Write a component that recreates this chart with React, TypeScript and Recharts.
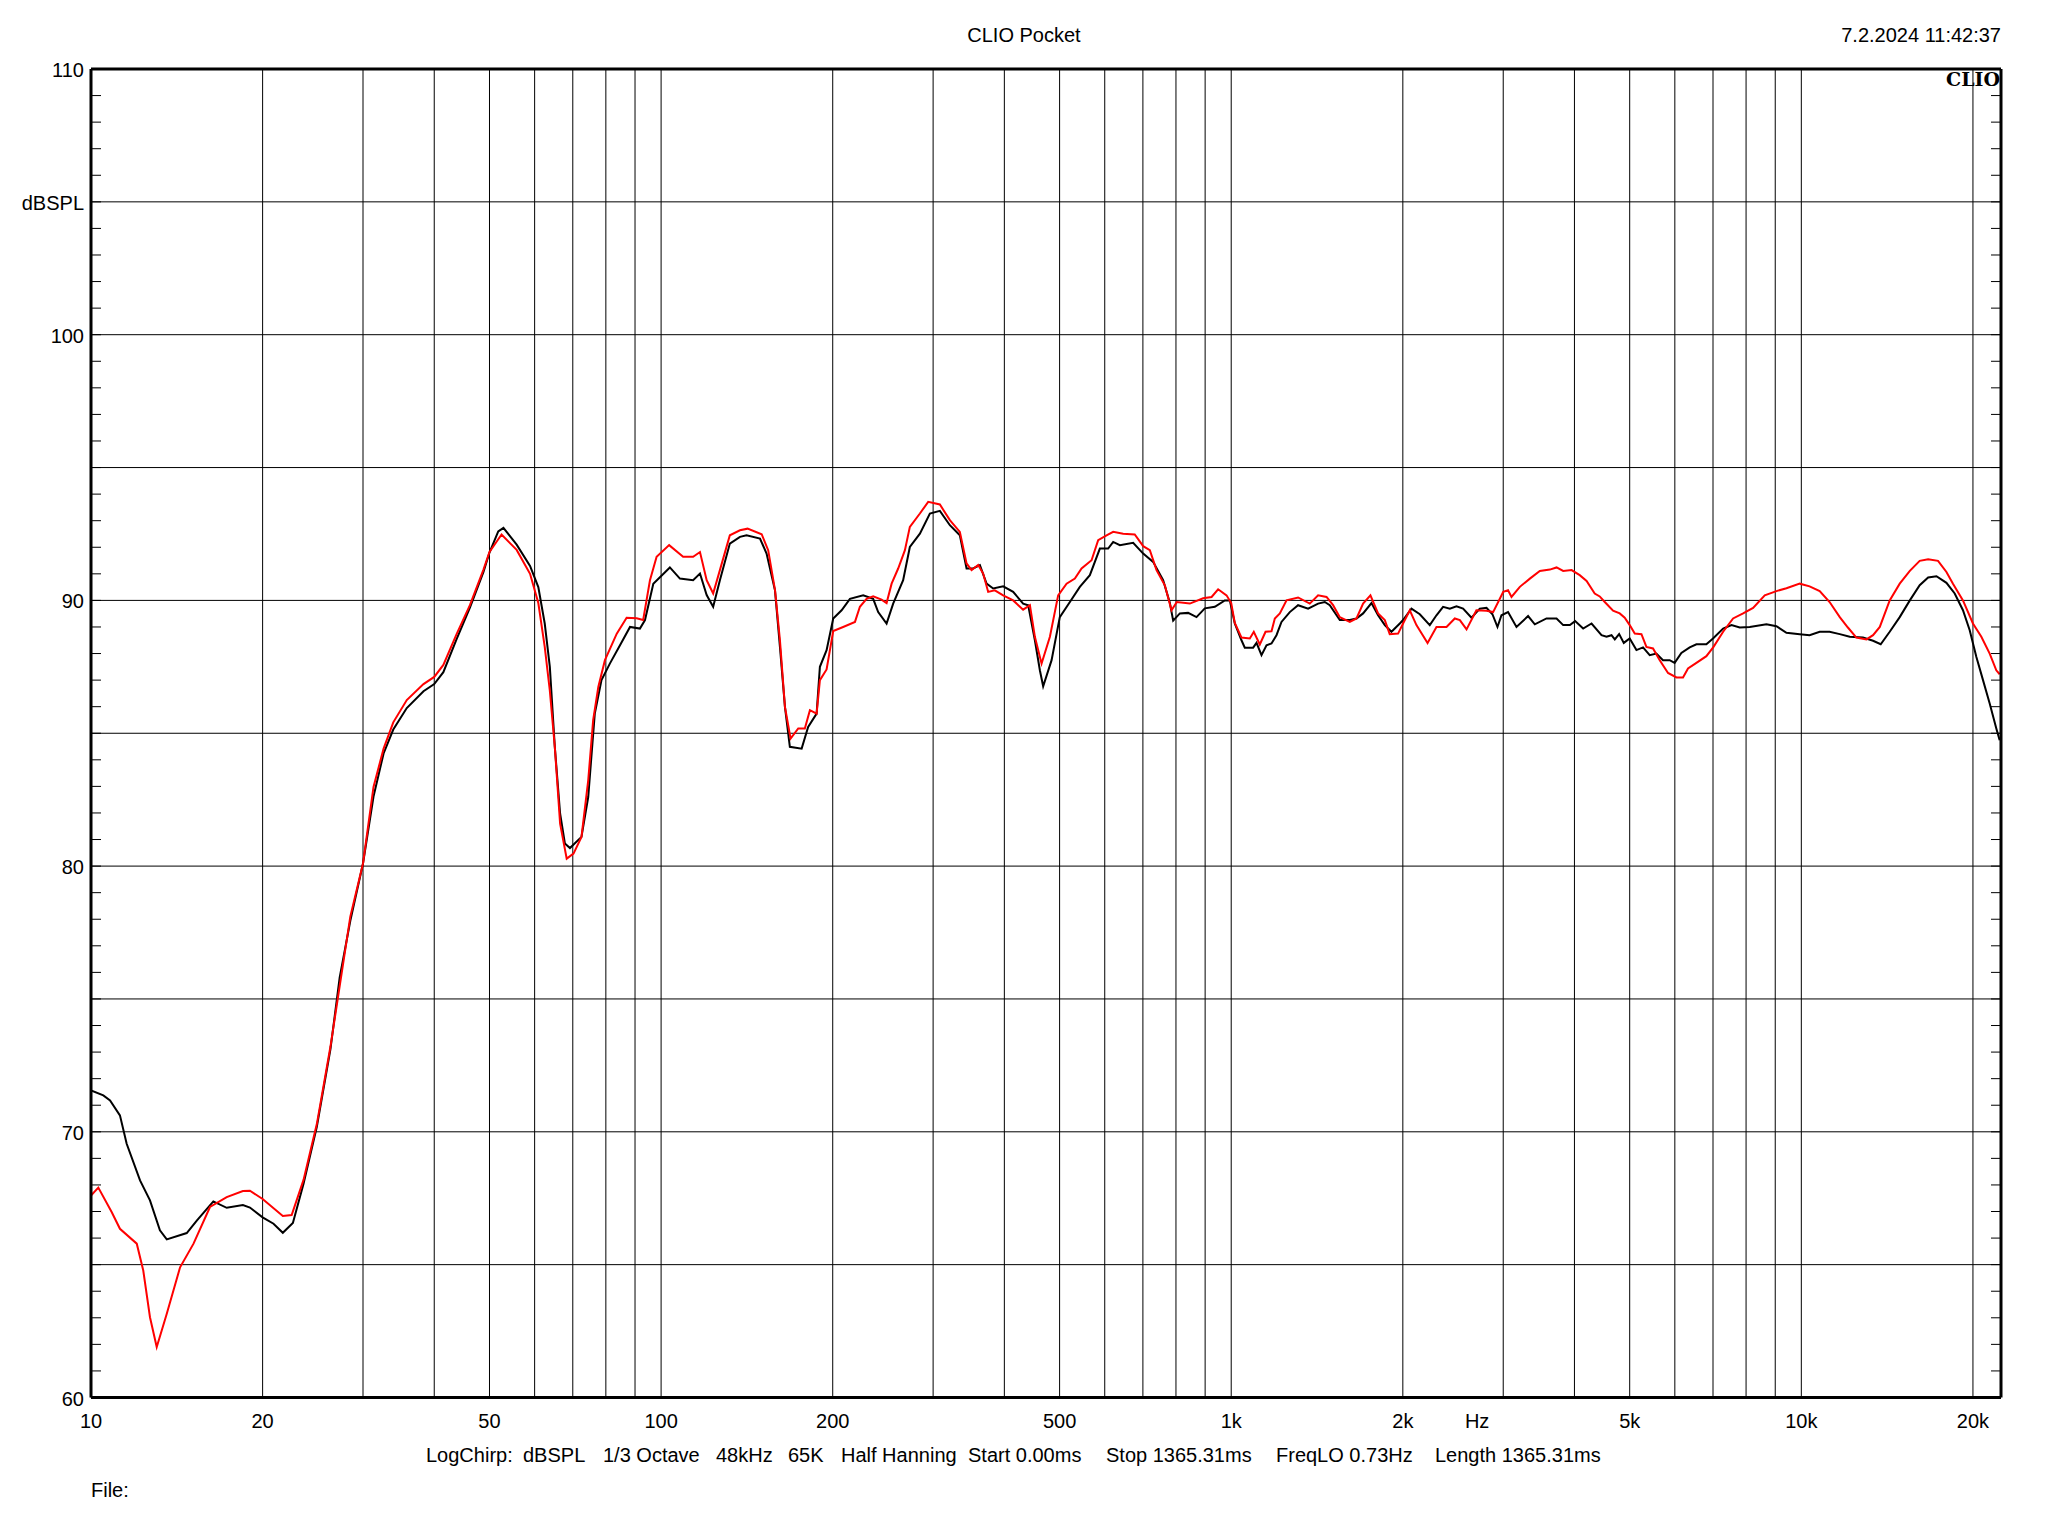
import React from 'react';
import { LineChart, Line, XAxis, YAxis, CartesianGrid } from 'recharts';

const FONT = '"Liberation Sans", Arial, sans-serif';

// Frequency grid / tick values (Hz)
const gridHz = [10, 20, 30, 40, 50, 60, 70, 80, 90, 100, 200, 300, 400, 500, 600, 700, 800, 900, 1000, 2000, 3000, 4000, 5000, 6000, 7000, 8000, 9000, 10000, 20000];
const labelHz = [10, 20, 50, 100, 200, 500, 1000, 2000, 2700, 5000, 10000, 20000];
const labelHzText: Record<number, string> = { 10: '10', 20: '20', 50: '50', 100: '100', 200: '200', 500: '500', 1000: '1k', 2000: '2k', 2700: 'Hz', 5000: '5k', 10000: '10k', 20000: '20k' };

// dB grid / ticks
const gridDb = [60, 65, 70, 75, 80, 85, 90, 95, 100, 105, 110];
const labelDbText: Record<number, string> = { 60: '60', 70: '70', 80: '80', 90: '90', 100: '100', 105: 'dBSPL', 110: '110' };
const minorDb = [60, 61, 62, 63, 64, 65, 66, 67, 68, 69, 70, 71, 72, 73, 74, 75, 76, 77, 78, 79, 80, 81, 82, 83, 84, 85, 86, 87, 88, 89, 90, 91, 92, 93, 94, 95, 96, 97, 98, 99, 100, 101, 102, 103, 104, 105, 106, 107, 108, 109, 110];

// Black trace
const blackHz = [10, 10.51, 10.8, 11.24, 11.55, 12.19, 12.69, 13.21, 13.58, 14.72, 15.33, 16.39, 17.3, 18.47, 19.0, 20.0, 20.9, 21.7, 22.6, 23.6, 24.9, 26.3, 27.3, 28.5, 30.0, 31.3, 32.6, 33.9, 35.8, 38.3, 40, 41.5, 43.8, 46.2, 48.8, 50, 51.8, 52.9, 55.8, 58.9, 60.9, 62.5, 63.8, 65.1, 66.5, 67.8, 69.2, 72.5, 74.5, 76.5, 78.6, 81.3, 84.7, 88.2, 91.8, 93.7, 96.9, 103.6, 107.9, 113.8, 117.0, 120.2, 123.4, 126.8, 132.0, 137.5, 141.2, 149.1, 153.1, 158.4, 161.6, 164.9, 168.2, 176.4, 181.1, 187.4, 189.9, 195.1, 200.4, 207.3, 214.4, 226.2, 235.5, 240.3, 248.6, 255.3, 265.8, 273.1, 284.4, 296.1, 308.3, 321.0, 334.2, 343.4, 352.6, 362.4, 372.3, 382.4, 398.1, 414.5, 431.5, 440.4, 452.5, 461.7, 467.9, 484.1, 500.4, 521.2, 542.6, 565.0, 588.3, 608.3, 620.8, 637.8, 673.0, 700.8, 729.5, 759.6, 780.6, 791.0, 812.7, 840.3, 869.2, 898.9, 936.0, 974.5, 994.3, 1014.6, 1042.3, 1056.4, 1092.5, 1107.6, 1130.1, 1153.2, 1176.7, 1200.6, 1225.1, 1266.9, 1310, 1364.2, 1420.3, 1459.4, 1489, 1550.6, 1614.4, 1658.5, 1703.4, 1762, 1809.7, 1859.5, 1910.3, 1975.6, 2002, 2071, 2142, 2230, 2291, 2353, 2418, 2484, 2551, 2639, 2729, 2804, 2872, 2931, 2979, 3059, 3165, 3317, 3408, 3573, 3721, 3822, 3927, 4011, 4143, 4286, 4462, 4553, 4646, 4708, 4791, 4882, 5000, 5138, 5277, 5421, 5569, 5719, 5876, 5995, 6160, 6371, 6546, 6815, 7000, 7292, 7543, 7798, 8119, 8686, 9043, 9417, 9936, 10340, 10770, 11210, 11680, 12160, 12830, 13360, 13780, 14290, 14880, 15500, 16130, 16690, 17260, 17970, 18580, 19210, 19740, 20280, 20830, 21400, 21980, 22280];
const blackDb = [71.56, 71.37, 71.18, 70.62, 69.55, 68.17, 67.42, 66.29, 65.95, 66.19, 66.66, 67.38, 67.14, 67.24, 67.15, 66.78, 66.54, 66.2, 66.57, 68.05, 70.2, 73.1, 75.8, 77.94, 80.1, 82.62, 84.24, 85.14, 85.95, 86.58, 86.85, 87.3, 88.55, 89.73, 91.07, 91.8, 92.6, 92.73, 92.1, 91.3, 90.5, 89.13, 87.5, 84.48, 81.98, 80.85, 80.68, 81.1, 82.6, 85.74, 87.0, 87.62, 88.31, 89.0, 88.94, 89.26, 90.63, 91.24, 90.82, 90.76, 91.01, 90.2, 89.76, 90.76, 92.14, 92.39, 92.45, 92.33, 91.76, 90.38, 88.25, 85.99, 84.49, 84.42, 85.24, 85.74, 87.5, 88.13, 89.32, 89.63, 90.06, 90.19, 90.06, 89.56, 89.13, 89.88, 90.76, 92.01, 92.51, 93.27, 93.37, 92.83, 92.45, 91.2, 91.2, 91.33, 90.63, 90.45, 90.53, 90.32, 89.88, 89.82, 88.5, 87.37, 86.77, 87.75, 89.37, 89.94, 90.51, 90.95, 91.95, 91.95, 92.2, 92.08, 92.17, 91.76, 91.45, 90.76, 89.9, 89.24, 89.51, 89.53, 89.37, 89.7, 89.76, 90.0, 90.0, 89.13, 88.5, 88.22, 88.22, 88.4, 87.94, 88.31, 88.38, 88.69, 89.19, 89.56, 89.82, 89.69, 89.88, 89.94, 89.82, 89.26, 89.26, 89.32, 89.51, 89.9, 89.44, 89.07, 88.82, 89.13, 89.26, 89.69, 89.48, 89.07, 89.44, 89.76, 89.69, 89.78, 89.69, 89.35, 89.69, 89.72, 89.48, 89.0, 89.44, 89.56, 89.0, 89.41, 89.1, 89.32, 89.32, 89.07, 89.07, 89.22, 88.94, 89.13, 88.69, 88.63, 88.69, 88.53, 88.73, 88.4, 88.57, 88.13, 88.23, 87.94, 88.0, 87.75, 87.75, 87.65, 88.02, 88.23, 88.35, 88.35, 88.57, 88.94, 89.07, 88.98, 89.0, 89.1, 89.03, 88.78, 88.73, 88.69, 88.82, 88.82, 88.73, 88.63, 88.6, 88.48, 88.35, 88.82, 89.37, 90.0, 90.57, 90.86, 90.91, 90.66, 90.26, 89.63, 88.88, 87.87, 87.0, 86.12, 85.18, 84.74];

// Red trace
const redHz = [10, 10.3, 10.87, 11.24, 12.03, 12.35, 12.69, 13.04, 13.58, 14.33, 15.13, 16.17, 17.3, 18.47, 19.0, 20.0, 21.7, 22.49, 23.6, 24.9, 26.3, 28.5, 30.0, 31.3, 32.6, 33.9, 35.8, 38.3, 40, 41.5, 43.8, 46.2, 48.8, 50, 52.5, 55.8, 58.9, 60.9, 62.5, 63.8, 65.1, 66.5, 68.3, 70.2, 72.5, 74.5, 76.0, 77.6, 79.7, 83.6, 87.0, 90.6, 93.0, 95.6, 98.2, 103.3, 109.3, 113.8, 117.0, 120.2, 123.4, 126.8, 132.0, 137.5, 141.8, 150.1, 154.1, 158.4, 161.6, 164.9, 168.7, 174.0, 178.7, 182.4, 187.4, 189.9, 195.1, 200.4, 208.6, 218.8, 223.2, 229.3, 235.5, 243.6, 248.6, 253.7, 260.5, 267.7, 273.1, 284.4, 294.1, 308.3, 321.0, 334.2, 343.4, 350.4, 359.9, 367.2, 374.7, 384.9, 398.1, 414.5, 431.5, 443.5, 452.5, 464.9, 480.8, 497.1, 514.3, 531.8, 546.4, 568.9, 584.3, 604.4, 620.8, 646.3, 677.3, 700.8, 719.9, 739.6, 764.9, 785.7, 802.7, 846.1, 892.7, 923.8, 948.5, 981.3, 1000, 1014.6, 1042.5, 1078, 1095.5, 1122.3, 1148.7, 1176.7, 1192.6, 1217, 1250.3, 1310, 1373.4, 1420.3, 1469.6, 1509, 1550.6, 1614.4, 1658.5, 1703.4, 1754.7, 1809.7, 1859.5, 1897, 1962, 2002, 2057, 2113, 2210, 2291, 2386, 2467, 2518, 2587, 2692, 2804, 2880, 2959, 3000, 3059, 3102, 3208, 3341, 3478, 3622, 3721, 3822, 3954, 4086, 4201, 4341, 4430, 4521, 4675, 4803, 4900, 5000, 5103, 5243, 5349, 5494, 5645, 5837, 6039, 6201, 6328, 6546, 6815, 7015, 7292, 7591, 7905, 8230, 8627, 9043, 9417, 9936, 10340, 10770, 11210, 11680, 12070, 12490, 13010, 13360, 13730, 14290, 14880, 15500, 16130, 16690, 17370, 17970, 18450, 19210, 20000, 20690, 21400, 21980, 22280];
const redDb = [67.6, 67.9, 66.98, 66.35, 65.79, 64.78, 63.02, 61.9, 63.15, 64.9, 65.79, 67.17, 67.54, 67.77, 67.78, 67.47, 66.83, 66.87, 68.2, 70.3, 73.2, 78.1, 80.1, 82.98, 84.42, 85.41, 86.25, 86.85, 87.12, 87.57, 88.74, 89.82, 91.16, 91.82, 92.48, 91.9, 91.0, 89.9, 88.25, 86.6, 84.48, 81.6, 80.28, 80.47, 81.1, 83.23, 85.49, 86.74, 87.75, 88.75, 89.35, 89.33, 89.26, 90.76, 91.64, 92.08, 91.64, 91.64, 91.82, 90.76, 90.26, 91.14, 92.45, 92.64, 92.7, 92.49, 91.89, 90.4, 88.5, 85.99, 84.8, 85.18, 85.18, 85.87, 85.74, 87.0, 87.4, 88.85, 89.0, 89.19, 89.76, 90.06, 90.15, 90.03, 89.9, 90.63, 91.2, 91.89, 92.77, 93.27, 93.71, 93.61, 93.02, 92.58, 91.39, 91.14, 91.33, 91.01, 90.32, 90.38, 90.19, 90.0, 89.65, 89.82, 88.63, 87.62, 88.63, 90.19, 90.63, 90.82, 91.2, 91.51, 92.27, 92.45, 92.58, 92.51, 92.48, 92.04, 91.89, 91.14, 90.57, 89.63, 89.94, 89.88, 90.08, 90.13, 90.42, 90.19, 89.9, 89.15, 88.6, 88.57, 88.82, 88.34, 88.82, 88.84, 89.32, 89.51, 90.0, 90.11, 89.88, 90.19, 90.13, 89.82, 89.37, 89.19, 89.32, 89.88, 90.19, 89.51, 89.26, 88.73, 88.75, 89.13, 89.63, 89.07, 88.4, 89.0, 89.0, 89.32, 89.26, 88.91, 89.63, 89.61, 89.56, 90.06, 90.32, 90.38, 90.13, 90.51, 90.82, 91.11, 91.16, 91.24, 91.11, 91.14, 90.95, 90.73, 90.26, 90.15, 89.94, 89.61, 89.51, 89.35, 89.07, 88.75, 88.73, 88.25, 88.19, 87.75, 87.27, 87.1, 87.1, 87.44, 87.65, 87.9, 88.25, 88.82, 89.32, 89.51, 89.72, 90.19, 90.35, 90.46, 90.63, 90.53, 90.35, 89.94, 89.37, 88.98, 88.6, 88.53, 88.69, 89.0, 90.0, 90.63, 91.11, 91.49, 91.55, 91.49, 91.07, 90.63, 90.0, 89.13, 88.63, 88.0, 87.37, 87.22];

const blackData = blackHz.map((f, i) => ({ f, db: blackDb[i] }));
const redData = redHz.map((f, i) => ({ f, db: redDb[i] }));

const X_DOMAIN: [number, number] = [10, 22400];
const Y_DOMAIN: [number, number] = [60, 110];

const EmptyTick = () => <g />;

const XLabelTick = (props: any) => {
  const { x, y, payload } = props;
  const t = labelHzText[payload.value];
  if (!t) return <g />;
  return (
    <text x={x} y={y + 30} textAnchor="middle" fontSize={20} fontFamily={FONT} fill="#000">
      {t}
    </text>
  );
};

const YLabelTick = (props: any) => {
  const { x, y, payload } = props;
  const t = labelDbText[payload.value];
  if (!t) return <g />;
  return (
    <text x={x - 7} y={y + 8} textAnchor="end" fontSize={20} fontFamily={FONT} fill="#000">
      {t}
    </text>
  );
};

const MinorLeft = (props: any) => {
  const { x, y } = props;
  return <line x1={x + 1} x2={x + 11} y1={y} y2={y} stroke="#000" strokeWidth={1} />;
};

const MinorRight = (props: any) => {
  const { x, y } = props;
  return <line x1={x - 10} x2={x} y1={y} y2={y} stroke="#000" strokeWidth={1} />;
};

const frame = { stroke: '#000', strokeWidth: 3 };

export default function App() {
  return (
    <div style={{ position: 'absolute', left: 0, top: 0, width: 2048, height: 1536, background: '#fff' }}>
      <LineChart width={2048} height={1536} margin={{ top: 68, right: 46, bottom: 137.5, left: 89 }}>
        <CartesianGrid stroke="#000" strokeWidth={1} horizontal vertical verticalValues={gridHz} horizontalValues={gridDb} />
        <XAxis
          dataKey="f"
          type="number"
          scale="log"
          domain={X_DOMAIN}
          allowDataOverflow
          ticks={labelHz}
          interval={0}
          tick={<XLabelTick />}
          tickLine={false}
          tickSize={0}
          tickMargin={0}
          axisLine={frame}
          height={1}
        />
        <XAxis
          xAxisId="top"
          orientation="top"
          type="number"
          scale="log"
          domain={X_DOMAIN}
          allowDataOverflow
          ticks={gridHz}
          interval={0}
          tick={<EmptyTick />}
          tickLine={false}
          tickSize={0}
          tickMargin={0}
          axisLine={frame}
          height={1}
        />
        <YAxis
          type="number"
          domain={Y_DOMAIN}
          allowDataOverflow
          ticks={gridDb}
          interval={0}
          tick={<YLabelTick />}
          tickLine={false}
          tickSize={0}
          tickMargin={0}
          axisLine={frame}
          width={1}
        />
        <YAxis
          yAxisId="minorL"
          type="number"
          domain={Y_DOMAIN}
          allowDataOverflow
          ticks={minorDb}
          interval={0}
          tick={<MinorLeft />}
          tickLine={false}
          tickSize={0}
          tickMargin={0}
          axisLine={false}
          width={1}
        />
        <YAxis
          yAxisId="minorR"
          orientation="right"
          type="number"
          domain={Y_DOMAIN}
          allowDataOverflow
          ticks={minorDb}
          interval={0}
          tick={<MinorRight />}
          tickLine={false}
          tickSize={0}
          tickMargin={0}
          axisLine={frame}
          width={1}
        />
        <Line data={blackData} dataKey="db" type="linear" stroke="#000" strokeWidth={2} dot={false} activeDot={false} isAnimationActive={false} />
        <Line data={redData} dataKey="db" type="linear" stroke="#ff0000" strokeWidth={2} dot={false} activeDot={false} isAnimationActive={false} />
      </LineChart>
      <svg width={2048} height={1536} style={{ position: 'absolute', left: 0, top: 0, pointerEvents: 'none' }}>
        <g fontFamily={FONT} fontSize={20} fill="#000">
          <text x={1024} y={42} textAnchor="middle">CLIO Pocket</text>
          <text x={2001} y={42} textAnchor="end">7.2.2024 11:42:37</text>
          <text x={426} y={1462}>LogChirp:</text>
          <text x={523} y={1462}>dBSPL</text>
          <text x={603} y={1462}>1/3 Octave</text>
          <text x={716} y={1462}>48kHz</text>
          <text x={788} y={1462}>65K</text>
          <text x={841} y={1462}>Half Hanning</text>
          <text x={968} y={1462}>Start 0.00ms</text>
          <text x={1106} y={1462}>Stop 1365.31ms</text>
          <text x={1276} y={1462}>FreqLO 0.73Hz</text>
          <text x={1435} y={1462}>Length 1365.31ms</text>
          <text x={91} y={1497}>File:</text>
        </g>
        <text x={2000} y={86} textAnchor="end" fontFamily='"DejaVu Serif", "Liberation Serif", serif' fontWeight="bold" fontSize={19} fill="#000">CLIO</text>
      </svg>
    </div>
  );
}
